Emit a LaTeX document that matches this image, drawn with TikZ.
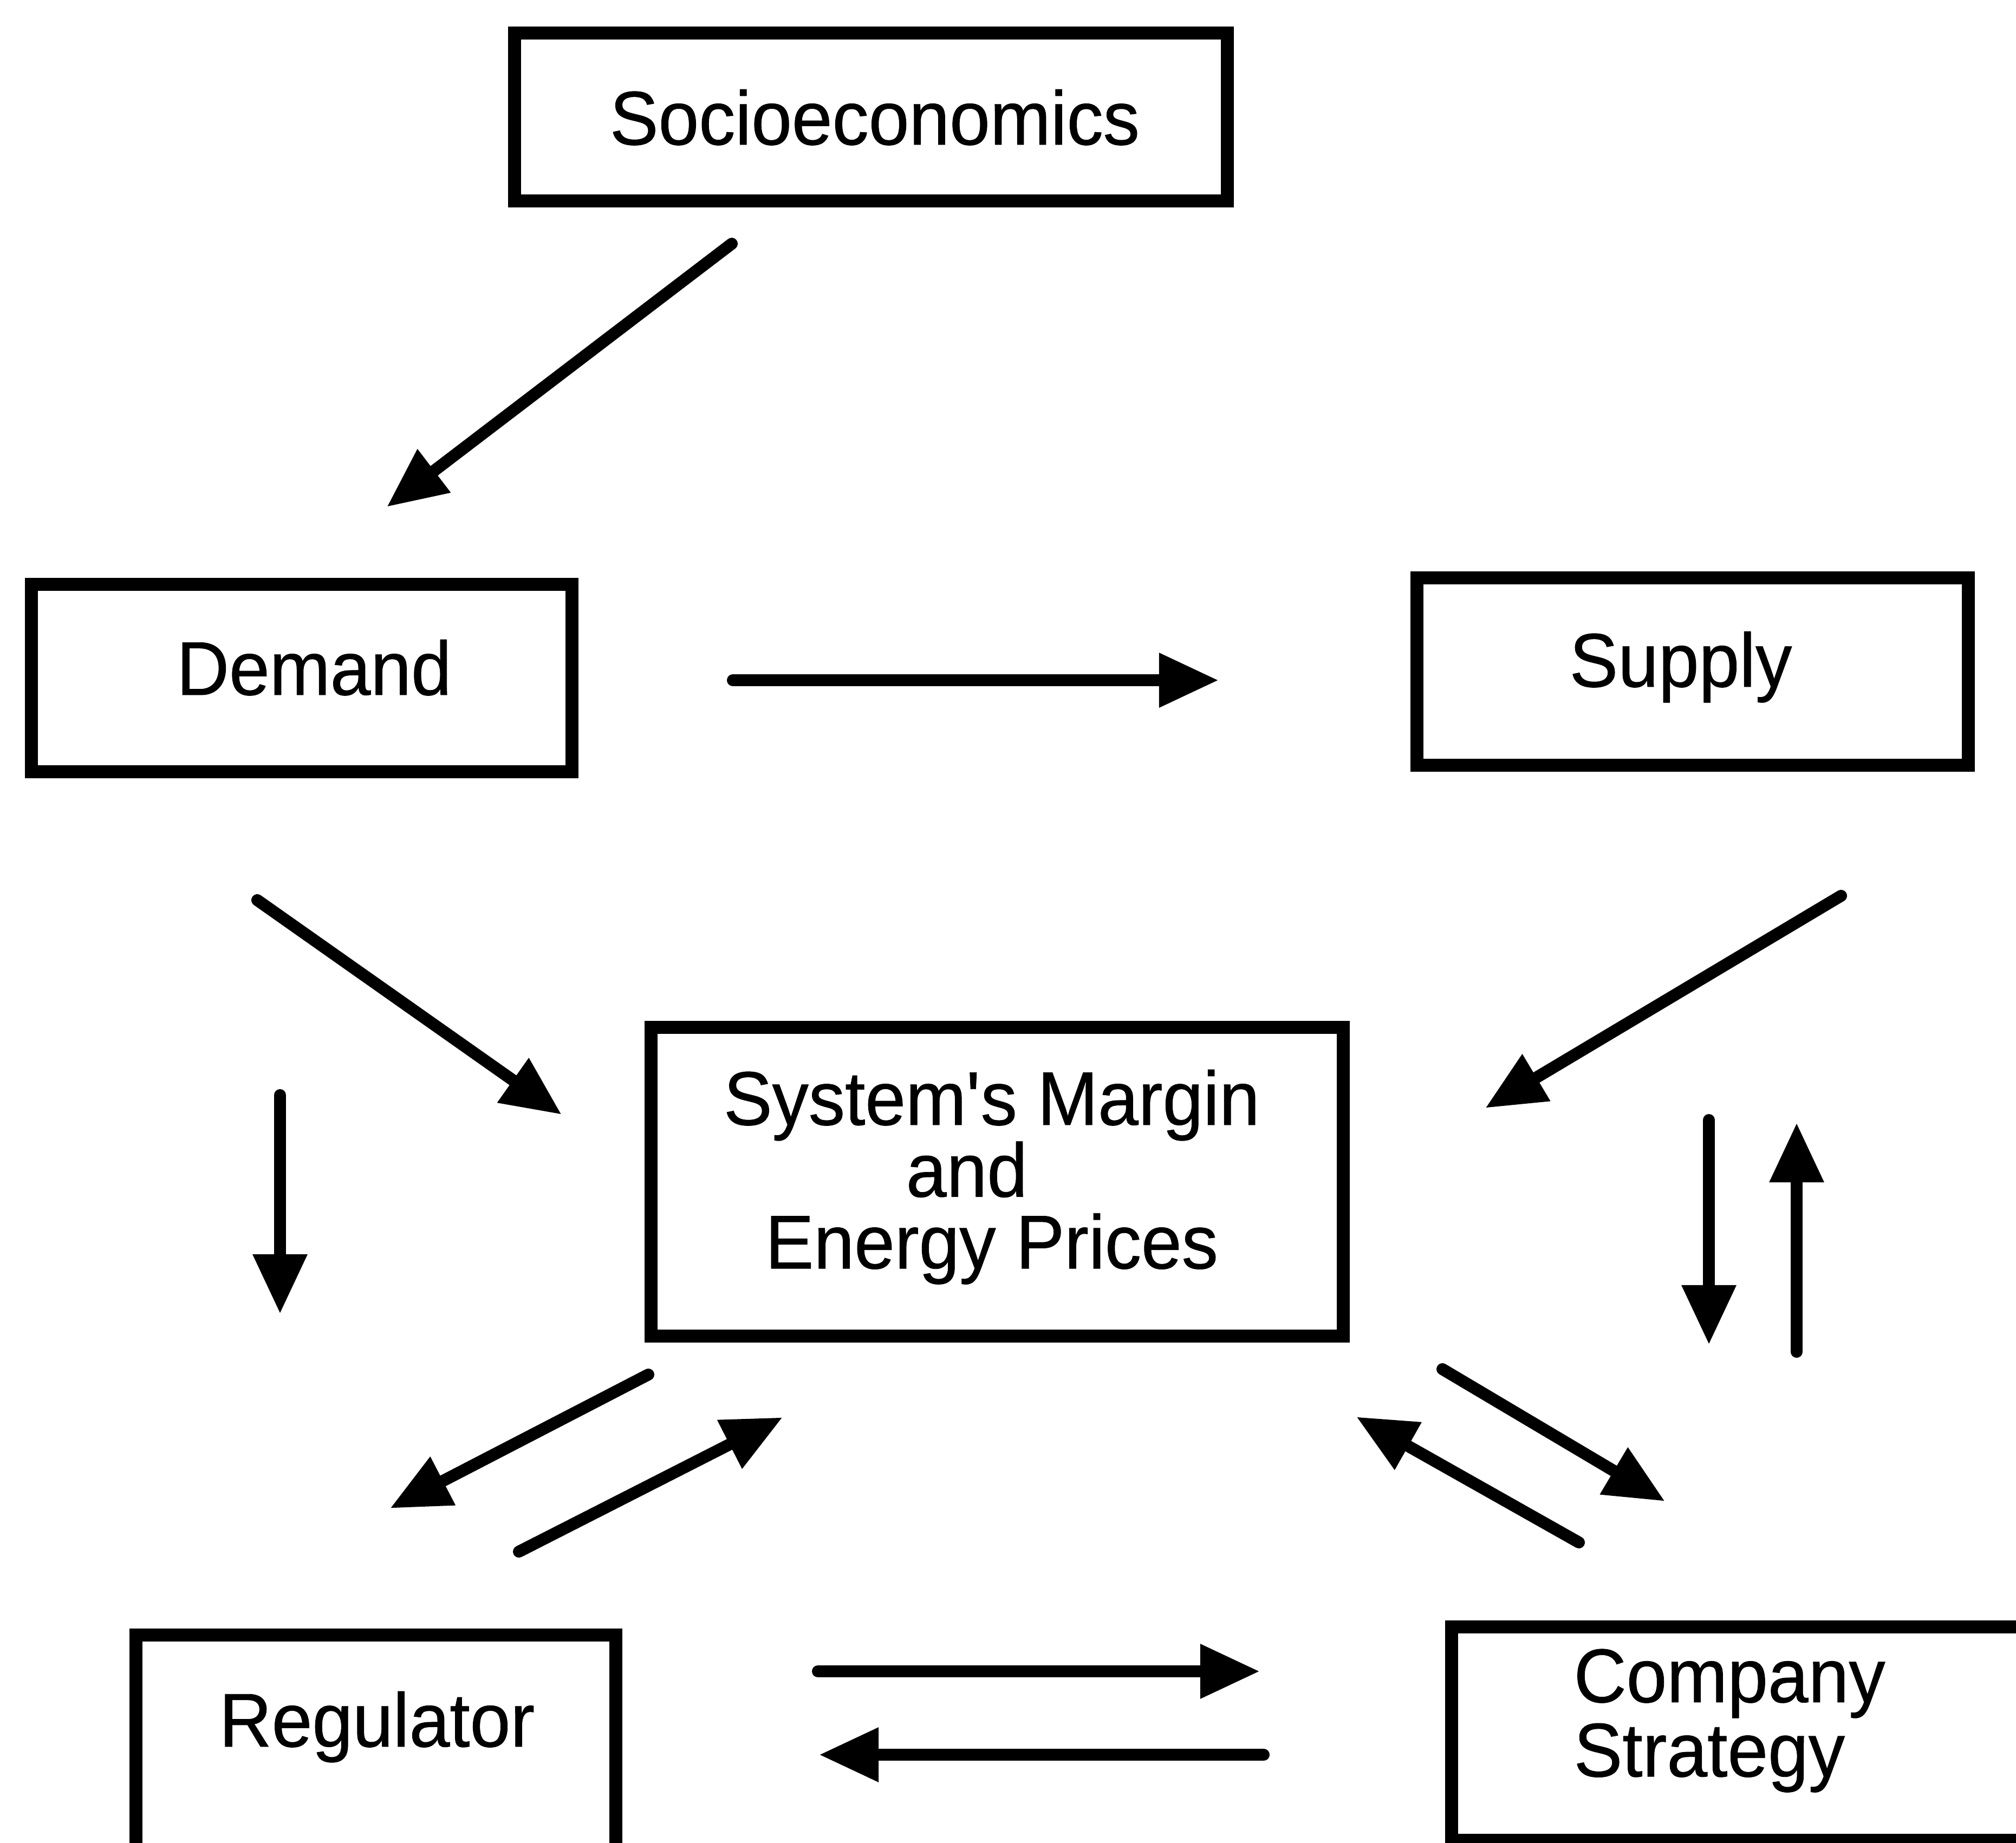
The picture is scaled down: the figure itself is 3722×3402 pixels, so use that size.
\documentclass[tikz,border=0pt]{standalone}
\usepackage{fontspec}
\setmainfont{Liberation Sans}[FakeStretch=0.955,FakeBold=0.6]
\usetikzlibrary{arrows.meta}

% lines of a label stacked at a fixed baseline distance
\newcommand\centredlines[2]{\vtop{\baselineskip=#1\lineskiplimit=-1000pt\halign{\hfil##\hfil\cr#2\crcr}}}
\newcommand\leftlines[2]{\vtop{\baselineskip=#1\lineskiplimit=-1000pt\halign{##\hfil\cr#2\crcr}}}

\begin{document}
\begin{tikzpicture}[x=0.01cm,y=-0.01cm,
  box/.style={draw=black,line width=0.24cm,inner sep=0pt,rectangle},
  lbl/.style={inner sep=0pt,anchor=base,font=\fontsize{40}{38}\selectfont},
  flow/.style={line width=0.22cm,line cap=round,-{Triangle[length=1.1cm,width=0.95cm]}}]

\useasboundingbox (0,0) rectangle (3722,3402);
\clip (0,0) rectangle (3722,3402);
\fill[white] (0,0) rectangle (3722,3402);

% boxes
\node[box,minimum width=13.16cm,minimum height=3.10cm] (soc) at (1608,216) {};
\node[box,minimum width=9.98cm,minimum height=3.45cm]  (dem) at (557,1252) {};
\node[box,minimum width=10.17cm,minimum height=3.46cm] (sup) at (3125,1240) {};
\node[box,minimum width=12.77cm,minimum height=5.70cm] (mid) at (1841,2182) {};
\node[box,minimum width=8.85cm,minimum height=4.06cm]  (reg) at (694,3222) {};
\node[box,minimum width=11.20cm,minimum height=3.93cm] (com) at (3240,3201) {};

% labels
\node[lbl] (soctxt) at (1615,267) {Socioeconomics};
\node[lbl] (demtxt) at (580,1283) {Demand};
\node[lbl] (suptxt) at (3103,1268) {Supply};
\node[lbl] (midtxt) at (1831,2077) {\centredlines{37.7pt}{System\textquotesingle s Margin\cr and\kern0.92cm\cr Energy Prices}};
\node[lbl] (regtxt) at (696,3225) {Regulator};
\node[lbl,anchor=base west] (comtxt) at (2905,3143) {\leftlines{39pt}{Company\cr Strategy}};

% arrow ends
\coordinate (a1s) at (1351,450);  \coordinate (a1e) at (714,936);
\coordinate (a2s) at (1353,1256); \coordinate (a2e) at (2250,1256);
\coordinate (a3s) at (475,1662);  \coordinate (a3e) at (1037,2058);
\coordinate (a4s) at (517,2022);  \coordinate (a4e) at (517,2426);
\coordinate (a5s) at (3399,1654); \coordinate (a5e) at (2742,2046);
\coordinate (a6s) at (3155,2068); \coordinate (a6e) at (3155,2483);
\coordinate (a7s) at (3317,2496); \coordinate (a7e) at (3317,2073);
\coordinate (a8s) at (1197,2538); \coordinate (a8e) at (720,2785);
\coordinate (a9s) at (958,2865);  \coordinate (a9e) at (1445,2617);
\coordinate (a10s) at (2663,2528); \coordinate (a10e) at (3074,2772);
\coordinate (a11s) at (2915,2848); \coordinate (a11e) at (2504,2616);
\coordinate (a12s) at (1510,3086); \coordinate (a12e) at (2326,3086);
\coordinate (a13s) at (2333,3240); \coordinate (a13e) at (1512,3240);

% influences
\draw[flow] (a1s) -- (a1e);
\draw[flow] (a2s) -- (a2e);
\draw[flow] (a3s) -- (a3e);
\draw[flow] (a4s) -- (a4e);
\draw[flow] (a5s) -- (a5e);
\draw[flow] (a6s) -- (a6e);
\draw[flow] (a7s) -- (a7e);
\draw[flow] (a8s) -- (a8e);
\draw[flow] (a9s) -- (a9e);
\draw[flow] (a10s) -- (a10e);
\draw[flow] (a11s) -- (a11e);
\draw[flow] (a12s) -- (a12e);
\draw[flow] (a13s) -- (a13e);
\end{tikzpicture}
\end{document}
